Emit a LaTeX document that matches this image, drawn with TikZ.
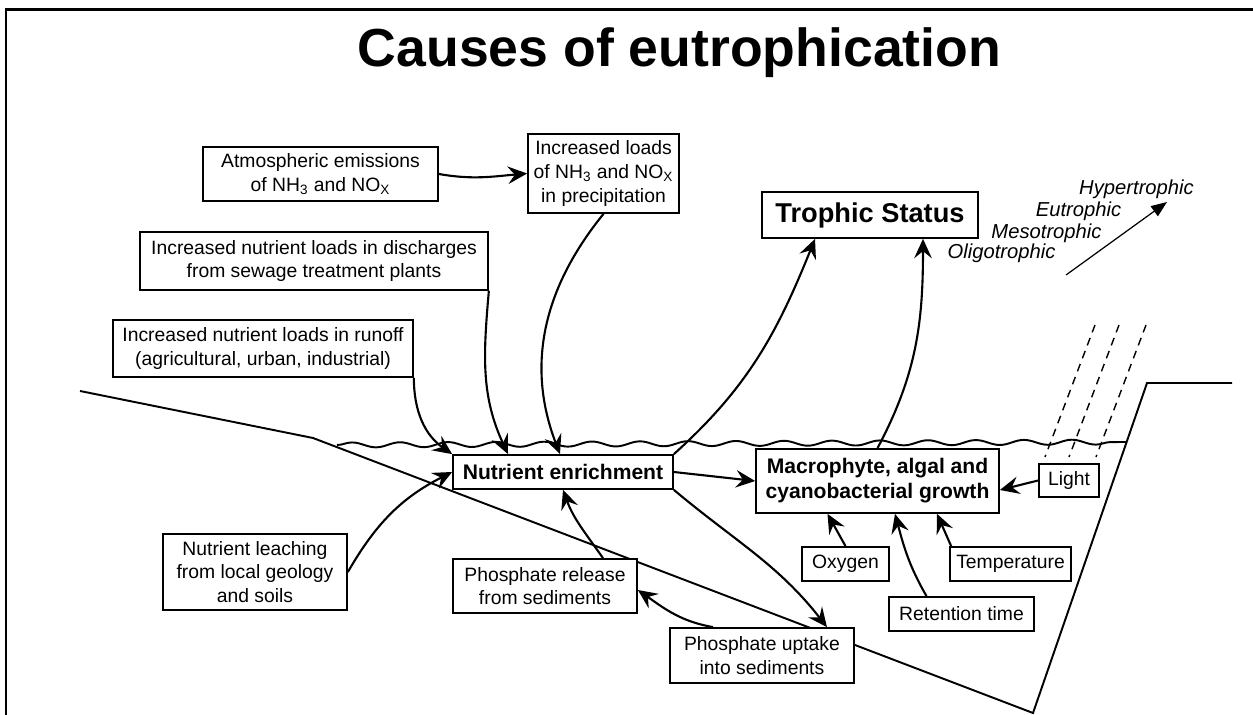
\documentclass[tikz,border=0pt]{standalone}
\usepackage{fontspec}
\setmainfont{Liberation Sans}
\usetikzlibrary{arrows.meta,decorations.pathmorphing}
\begin{document}
\begin{tikzpicture}[x=0.02cm,y=-0.02cm,
    box/.style={draw,line width=1pt,fill=white,align=center,inner sep=2pt,font=\fontsize{11}{13.5}\selectfont},
    bbox/.style={box,font=\fontsize{12}{14.2}\selectfont\bfseries},
    arr/.style={line width=1.2pt,-{Stealth[length=11pt,width=10pt,inset=4pt]}},
    lvl/.style={anchor=base,font=\fontsize{11.5}{13}\selectfont\itshape}]
  \useasboundingbox (0,0) rectangle (1253,715);
  \draw[line width=1.7pt] (6,715) -- (6,9.5) -- (1253,9.5);
  \node[anchor=base,font=\fontsize{30.5}{36}\selectfont\bfseries] (title) at (679.5,67) {Causes of eutrophication};
  % lake basin, water surface and light
  \draw[line width=1.1pt] (80,391) -- (313,438) -- (1033,713) -- (1147,383) -- (1232,383);
  \draw[line width=1.1pt,decorate,decoration={snake,segment length=0.96cm,amplitude=0.05cm}] (337,445) -- (1127,442);
  \foreach \dx in {0,24,51} \draw[line width=0.8pt,dash pattern=on 4.5pt off 3.4pt] (1095+\dx,325) -- (1045+\dx,457);
  % boxes
  \node[box,minimum width=4.7cm,minimum height=1.08cm] (atmo) at (320.5,174) {Atmospheric emissions\\of NH\textsubscript{3} and NO\textsubscript{X}};
  \node[box,minimum width=3.02cm,minimum height=1.58cm] (precip) at (603.5,173.5) {Increased loads\\of NH\textsubscript{3} and NO\textsubscript{X}\\in precipitation};
  \node[box,minimum width=6.96cm,minimum height=1.16cm] (sewage) at (314,261) {Increased nutrient loads in discharges\\from sewage treatment plants};
  \node[box,minimum width=6cm,minimum height=1.14cm] (runoff) at (263,348.5) {Increased nutrient loads in runoff\\(agricultural, urban, industrial)};
  \node[bbox,font=\fontsize{15.5}{18}\selectfont\bfseries,minimum width=4.32cm,minimum height=0.92cm] (trophic) at (870,215) {Trophic Status};
  \node[bbox,minimum width=4.4cm,minimum height=0.68cm] (enrich) at (563,472) {Nutrient enrichment};
  \node[bbox,minimum width=4.86cm,minimum height=1.28cm] (growth) at (877.5,481) {Macrophyte, algal and\\cyanobacterial growth};
  \node[box,minimum width=1.2cm,minimum height=0.66cm] (light) at (1069,480.5) {Light};
  \node[box,minimum width=1.74cm,minimum height=0.68cm] (oxygen) at (845.5,564) {Oxygen};
  \node[box,minimum width=2.42cm,minimum height=0.68cm] (temp) at (1010.5,564) {Temperature};
  \node[box,minimum width=2.9cm,minimum height=0.68cm] (retention) at (961.5,614) {Retention time};
  \node[box,minimum width=3.68cm,minimum height=1.52cm] (leach) at (255,572) {Nutrient leaching\\from local geology\\and soils};
  \node[box,minimum width=3.68cm,minimum height=1.08cm] (release) at (545,586) {Phosphate release\\from sediments};
  \node[box,minimum width=3.68cm,minimum height=1.1cm] (uptake) at (762,655.5) {Phosphate uptake\\into sediments};
  % trophic scale
  \node[lvl] (hyper) at (1136.5,195) {Hypertrophic};
  \node[lvl] (eu) at (1078.5,217) {Eutrophic};
  \node[lvl] (meso) at (1046.5,239) {Mesotrophic};
  \node[lvl] (oligo) at (1001.5,259) {Oligotrophic};
  \coordinate (low) at (1066,275); \coordinate (high) at (1167,202);
  \draw[line width=0.7pt,-{Triangle[length=9pt,width=7pt]}] (low) -- (high);
  % connectors
  \draw[arr] (atmo.east) to[out=-10,in=185] (precip.west);
  \draw[arr] (precip.south) to[out=231,in=111] ([xshift=-0.06cm]enrich.north);
  \draw[arr] (sewage.south east) to[out=265,in=115] ([xshift=-1.1cm]enrich.north);
  \draw[arr] (runoff.south east) to[out=270,in=145] (enrich.north west);
  \draw[arr] (leach.east) to[out=60,in=207] (enrich.west);
  \draw[arr] (enrich.east) -- (growth.west);
  \draw[arr] (enrich.north east) to[out=42,in=-112] ([xshift=-1.1cm]trophic.south);
  \draw[arr] (growth.north) to[out=62,in=-90] ([xshift=1.06cm]trophic.south);
  \draw[arr] (enrich.south east) to[out=-40,in=128] ([xshift=1.3cm]uptake.north);
  \draw[arr] ([xshift=1.16cm]release.north) to[out=125,in=-70] (enrich.south);
  \draw[arr] ([xshift=-0.98cm]uptake.north) to[out=170,in=-35] ([yshift=-0.08cm]release.east);
  \draw[arr] (light.west) -- ([yshift=-0.18cm]growth.east);
  \draw[arr] (oxygen.north) -- ([xshift=-1cm]growth.south);
  \draw[arr] ([xshift=-0.7cm]retention.north) to[out=120,in=-75] ([xshift=0.35cm]growth.south);
  \draw[arr] ([xshift=0.04cm]temp.north west) -- ([xshift=1.19cm]growth.south);
\end{tikzpicture}
\end{document}
